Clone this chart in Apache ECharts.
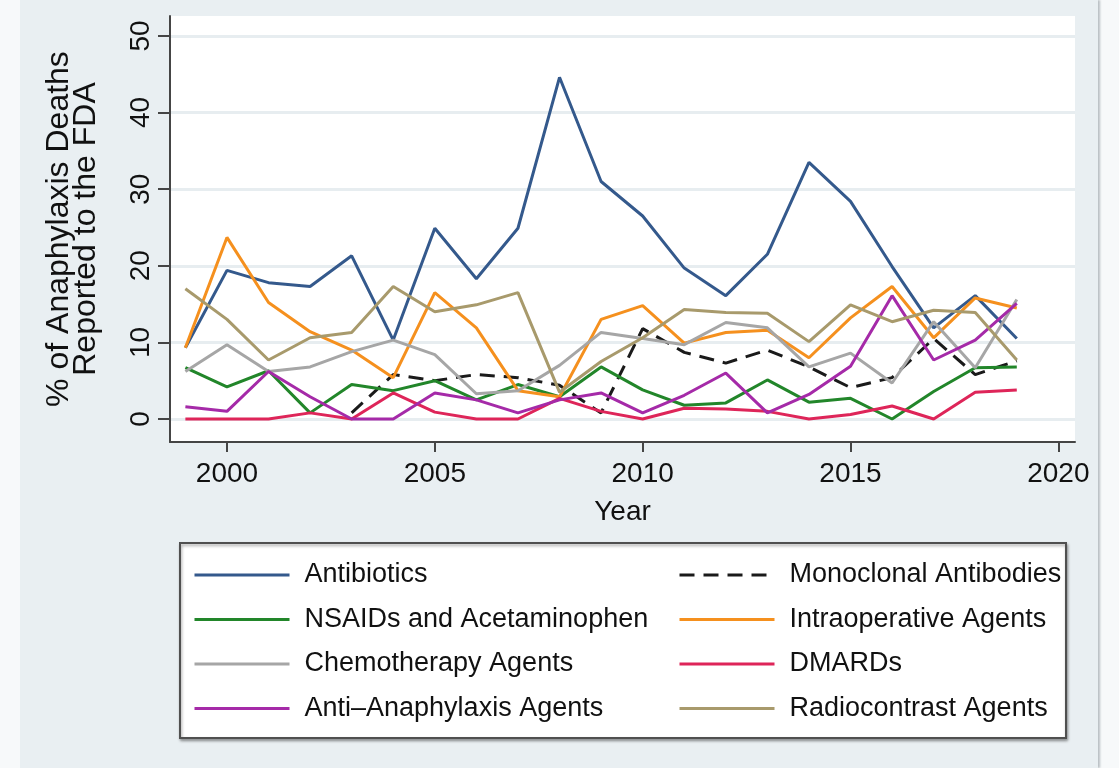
<!DOCTYPE html>
<html>
<head>
<meta charset="utf-8">
<script src="https://cdn.jsdelivr.net/npm/echarts@6/dist/echarts.min.js"></script>
<style>
  html, body { margin: 0; padding: 0; background: #f7f9fa; width: 1119px; height: 768px; overflow: hidden; }
  #chart { position: absolute; left: 20px; top: 0; width: 1078px; height: 768px; background: #e9eff2; box-shadow: 2px 0 2px #b9bfc3; }
</style>
</head>
<body>
<div id="chart"></div>
<script>
const years = [1999,2000,2001,2002,2003,2004,2005,2006,2007,2008,2009,2010,2011,2012,2013,2014,2015,2016,2017,2018,2019];
const antibiotics   = [9.3,19.4,17.8,17.3,21.3,10.3,24.9,18.3,24.9,44.6,31.0,26.5,19.7,16.1,21.5,33.5,28.4,19.9,11.9,16.1,10.5];
const monoclonal    = [null,null,null,null,0.8,5.8,5.0,5.8,5.4,4.4,0.8,11.8,8.7,7.3,9.0,6.8,4.1,5.4,10.5,5.8,7.6];
const nsaids        = [6.7,4.2,6.3,0.8,4.5,3.7,5.0,2.5,4.5,2.9,6.8,3.8,1.8,2.1,5.1,2.2,2.7,0,3.6,6.7,6.8];
const intraop       = [9.3,23.7,15.2,11.4,9.0,5.4,16.5,11.9,3.7,2.9,13.0,14.8,9.9,11.3,11.6,8.0,13.2,17.3,10.6,15.8,14.5];
const chemo         = [6.2,9.7,6.2,6.8,8.8,10.3,8.4,3.3,3.7,7.0,11.3,10.5,9.7,12.6,11.9,6.8,8.6,4.7,12.7,6.7,15.6];
const dmards        = [0,0,0,0.8,0,3.4,0.9,0,0,2.7,1.0,0,1.4,1.3,1.0,0,0.6,1.7,0,3.5,3.8];
const antiAnaph     = [1.6,1.0,6.2,2.9,0,0,3.4,2.5,0.8,2.5,3.4,0.8,3.1,6.0,0.8,3.2,6.9,16.1,7.7,10.3,15.1];
const radiocontrast = [17.0,13.0,7.7,10.6,11.3,17.3,14.0,14.9,16.5,3.5,7.5,10.6,14.3,13.9,13.8,10.1,14.9,12.7,14.2,13.9,7.7];

const xTicks = [2000,2005,2010,2015,2020];
const yTicks = [0,10,20,30,40,50];

const seriesDefs = [
  { name: 'Antibiotics', data: antibiotics, color: '#34598c', type: 'solid' },
  { name: 'Monoclonal Antibodies', data: monoclonal, color: '#1a1a1a', type: [15, 9] },
  { name: 'NSAIDs and Acetaminophen', data: nsaids, color: '#22862a', type: 'solid' },
  { name: 'Intraoperative Agents', data: intraop, color: '#f5901e', type: 'solid' },
  { name: 'Chemotherapy Agents', data: chemo, color: '#a6a6a6', type: 'solid' },
  { name: 'DMARDs', data: dmards, color: '#de2559', type: 'solid' },
  { name: 'Anti\u2013Anaphylaxis Agents', data: antiAnaph, color: '#a52aa8', type: 'solid' },
  { name: 'Radiocontrast Agents', data: radiocontrast, color: '#a89a6c', type: 'solid' }
];

const font = "'Liberation Sans', Arial, Helvetica, sans-serif";

const chart = echarts.init(document.getElementById('chart'));
const legendText = { fontFamily: font, fontSize: 27, color: '#111', lineHeight: 32, padding: [0, 0, 0, 10] };
const legendCommon = {
  orient: 'vertical', top: 559, padding: 0, itemGap: 12.5,
  itemWidth: 95, itemHeight: 2, itemStyle: { opacity: 0 },
  lineStyle: { width: 3 }, textStyle: legendText
};

chart.setOption({
  animation: false,
  grid: { left: 150, right: 23, top: 16, bottom: 326, show: true, backgroundColor: '#ffffff', borderWidth: 0 },
  xAxis: {
    type: 'value', min: 1998.63, max: 2020.4,
    name: 'Year', nameLocation: 'middle', nameGap: 56,
    nameTextStyle: { fontFamily: font, fontSize: 28, color: '#111' },
    axisLine: { show: true, onZero: false, lineStyle: { color: '#454545', width: 2 } },
    axisTick: { show: true, length: 10, customValues: xTicks, lineStyle: { color: '#454545', width: 2 } },
    axisLabel: { customValues: xTicks, margin: 18, fontFamily: font, fontSize: 28, color: '#111', formatter: v => String(v) },
    splitLine: { show: false }
  },
  yAxis: {
    type: 'value', min: -3, max: 52.6,
    name: '% of Anaphylaxis Deaths\nReported to the FDA', nameLocation: 'middle', nameGap: 70, nameRotate: 90,
    nameTextStyle: { fontFamily: font, fontSize: 32, color: '#111', lineHeight: 27 },
    axisLine: { show: true, lineStyle: { color: '#454545', width: 2 } },
    axisTick: { show: true, length: 12, customValues: yTicks, lineStyle: { color: '#454545', width: 2 } },
    axisLabel: { customValues: yTicks, rotate: 90, margin: 15, fontFamily: font, fontSize: 28, color: '#111', formatter: v => String(v) },
    splitLine: { show: true, lineStyle: { color: '#e7edf0', width: 3 } }
  },
  graphic: [{
    type: 'rect', z: 0,
    shape: { x: 160, y: 543, width: 886, height: 195 },
    style: { fill: '#ffffff', stroke: '#505050', lineWidth: 2, shadowColor: 'rgba(0,0,0,0.35)', shadowBlur: 3, shadowOffsetX: 1, shadowOffsetY: 2 }
  }],
  legend: [
    Object.assign({}, legendCommon, {
      left: 173,
      data: [seriesDefs[0].name, seriesDefs[2].name, seriesDefs[4].name, seriesDefs[6].name]
    }),
    Object.assign({}, legendCommon, {
      left: 658,
      data: [seriesDefs[1].name, seriesDefs[3].name, seriesDefs[5].name, seriesDefs[7].name]
    })
  ],
  series: seriesDefs.map(s => ({
    name: s.name,
    type: 'line',
    symbol: 'none',
    color: s.color,
    lineStyle: { color: s.color, width: 3, type: s.type },
    data: years.map((y, i) => [y, s.data[i]]).filter(p => p[1] !== null)
  }))
});
</script>
</body>
</html>
